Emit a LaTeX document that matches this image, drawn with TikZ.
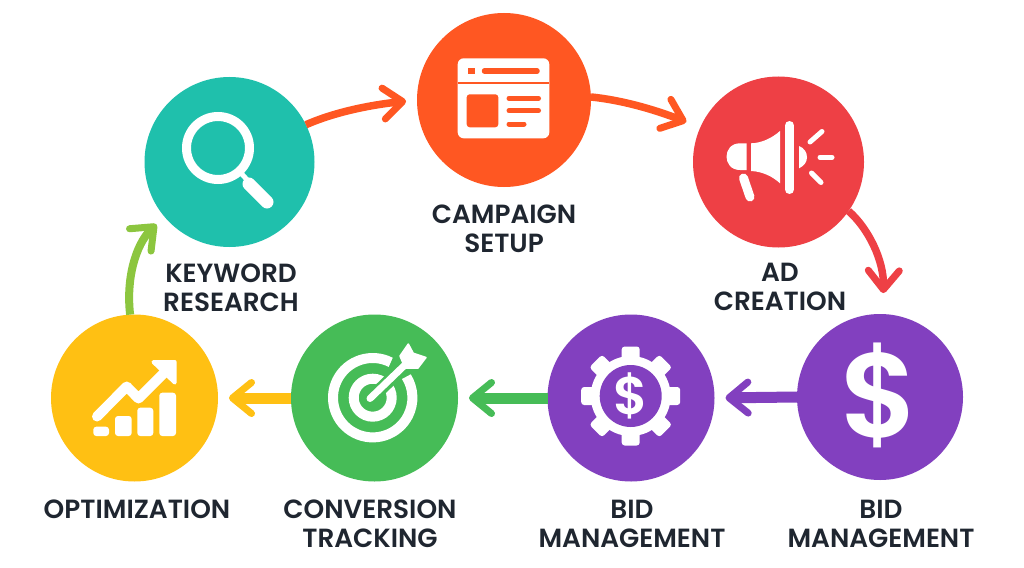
\documentclass[tikz,border=0pt]{standalone}
\usepackage{fontspec}
\setmainfont{Poppins}[BoldFont={Poppins SemiBold}]
\usetikzlibrary{arrows.meta}
\definecolor{cteal}{HTML}{1FC0AC}
\definecolor{corange}{HTML}{FF5722}
\definecolor{cred}{HTML}{EE4045}
\definecolor{cpurple}{HTML}{8240BF}
\definecolor{cgreen}{HTML}{46BC57}
\definecolor{cyellow}{HTML}{FFC013}
\definecolor{clime}{HTML}{8CC63F}
\definecolor{cdark}{HTML}{1F2630}
\tikzset{
  stepdisc/.style={circle,inner sep=0pt,outer sep=0pt,minimum size=#1,draw=none},
  lbl/.style={font=\fontsize{26.3}{29}\selectfont\bfseries,text=cdark,align=center,inner sep=0pt},
  flow/.style={line width=#1,line cap=butt,shorten >=11pt,-{Straight Barb[length=19pt,width=31pt,line width=7pt,round]}},
  ico/.style={white,line cap=round},
  icotext/.style={text=white,inner sep=0pt,font=\bfseries}
}
\begin{document}
\begin{tikzpicture}[x=1pt,y=-1pt]
\fill[white] (0,0) rectangle (1024,567);
\useasboundingbox (0,0) rectangle (1024,567);
% connectors under the discs
\coordinate (kwc) at (229.5,162);
% discs
\node[stepdisc=170pt,fill=cteal] (kw) at (229.5,162) {};
\node[stepdisc=174pt,fill=corange] (cs) at (504,100) {};
\node[stepdisc=171pt,fill=cred] (ad) at (778.5,162) {};
\node[stepdisc=167pt,fill=cyellow] (op) at (134.5,398) {};
\node[stepdisc=167pt,fill=cgreen] (cv) at (374.5,398) {};
\node[stepdisc=167pt,fill=cpurple] (bm) at (631,398) {};
\node[stepdisc=166pt,fill=cpurple] (bd) at (880,397) {};
\draw[flow=7.5pt,corange] (kw.26) .. controls (335,112) and (370,105) .. (cs.180);
\draw[flow=7.5pt,corange,shorten >=15pt] (cs.2) .. controls (620,100) and (650,108) .. (ad.156);
\draw[flow=7.5pt,cred,shorten >=21pt] (ad.-35) .. controls (868,228) and (884,260) .. (bd.88);
\draw[flow=11pt,cpurple] (bd.west) -- (bm.east);
\draw[flow=11pt,cgreen] (bm.west) -- (cv.east);
\draw[flow=11pt,cyellow] (cv.west) -- (op.east);
\draw[flow=8pt,clime] (op.93) .. controls (126,280) and (135,245) .. (kw.-140);
% labels
\node[lbl] (lkw) at (231,287.5) {KEYWORD\\RESEARCH};
\node[lbl] (lcs) at (504,228.5) {CAMPAIGN\\SETUP};
\node[lbl] (lad) at (780,286.5) {AD\\CREATION};
\node[lbl] (lop) at (137,509) {OPTIMIZATION};
\node[lbl] (lcv) at (370,523.5) {CONVERSION\\TRACKING};
\node[lbl] (lbm) at (632,523.5) {BID\\MANAGEMENT};
\node[lbl] (lbd) at (881,523.5) {BID\\MANAGEMENT};
% search icon
\draw[white,line width=9pt] (218,148) circle[radius=31.5];
\draw[white,line width=5pt] (240,172) -- (250,183);
\draw[ico,line width=13pt] (249,184) -- (267,202);
% window icon
\fill[white,rounded corners=6pt] (457.7,58.3) rectangle (549.3,138.3);
\fill[corange] (457.7,81.7) rectangle (549.3,83.7);
\fill[corange] (468.3,68) rectangle (475,74);
\draw[corange,line width=5.5pt,line cap=round] (484.5,71) -- (537,71);
\fill[corange,rounded corners=3pt] (466.7,94.3) rectangle (498.3,127.3);
\draw[corange,line width=5pt,line cap=round] (509,98.3) -- (538.5,98.3);
\draw[corange,line width=5pt,line cap=round] (509,110.7) -- (538.5,110.7);
\draw[corange,line width=5pt,line cap=round] (509,124) -- (524,124);
% megaphone icon
\fill[white] (746.7,143.3) -- (746.7,170) -- (740,170) .. controls (722,170) and (722,143.3) .. (740,143.3) -- cycle;
\fill[white] (751,143.3) .. controls (762,143) and (772,138) .. (780,131) -- (780,183.3) .. controls (772,176) and (762,171.5) .. (751,171) -- cycle;
\draw[ico,line width=9pt] (789.5,125.5) -- (789.5,189.5);
\fill[white] (799,146) .. controls (804,148) and (807,152) .. (807,157.3) .. controls (807,162) and (804,166) .. (799,168.3) -- cycle;
\draw[ico,line width=5pt] (810,142) -- (822,131.5);
\draw[ico,line width=5pt] (820,157.3) -- (832,157.3);
\draw[ico,line width=5pt] (811.5,173) -- (821,182.5);
\draw[ico,line width=9pt] (743.5,178) -- (750,197);
% chart icon
\fill[white,rounded corners=3pt] (93.3,426.7) rectangle (109,436);
\fill[white,rounded corners=3pt] (115,416) rectangle (131.7,436);
\fill[white,rounded corners=3pt] (137.3,407.7) rectangle (153.3,436);
\fill[white,rounded corners=3pt] (159.3,392.7) rectangle (176,436);
\draw[ico,line width=10pt,line join=round] (97,416.5) -- (126.7,386.5) -- (138.5,398.5) -- (167,370);
\fill[white,draw=white,line width=4pt,line join=round] (153.5,362) -- (174.7,362) -- (174.7,382.5) -- cycle;
% target icon
\begin{scope}[shift={(372.7,397.7)},y=1pt]
\draw[white,line width=10pt] (63:39.7) arc[start angle=63,end angle=392,radius=39.7];
\draw[white,line width=10pt] (0,0) circle[radius=19];
\draw[cgreen,line width=13pt] (0,1) -- (34,34);
\draw[ico,line width=7pt] (-2.7,-0.8) -- (35.3,35.7);
\fill[white,line join=round,draw=white,line width=1.5pt] (27.3,41.7) -- (35.6,53.7) -- (40.6,44.4) -- (53.3,40.2) -- (45.3,29.7) -- (32.3,29.7) -- cycle;
\end{scope}
% gear icon
\begin{scope}[shift={(630.7,396)},y=1pt]
\fill[white] (0,0) circle[radius=40];
\foreach \a in {0,45,...,315}{
  \fill[white,rotate=\a,rounded corners=3pt] (30,-9) rectangle (49.5,9);
}
\fill[cpurple] (0,0) circle[radius=31];
\end{scope}
\node[icotext,font=\fontsize{53}{53}\selectfont\bfseries] (gd) at (630.7,396) {\$};
% dollar icon
\node[icotext,font=\fontsize{120}{120}\selectfont\bfseries] (dl) at (879.3,395.3) {\$};
\end{tikzpicture}
\end{document}
